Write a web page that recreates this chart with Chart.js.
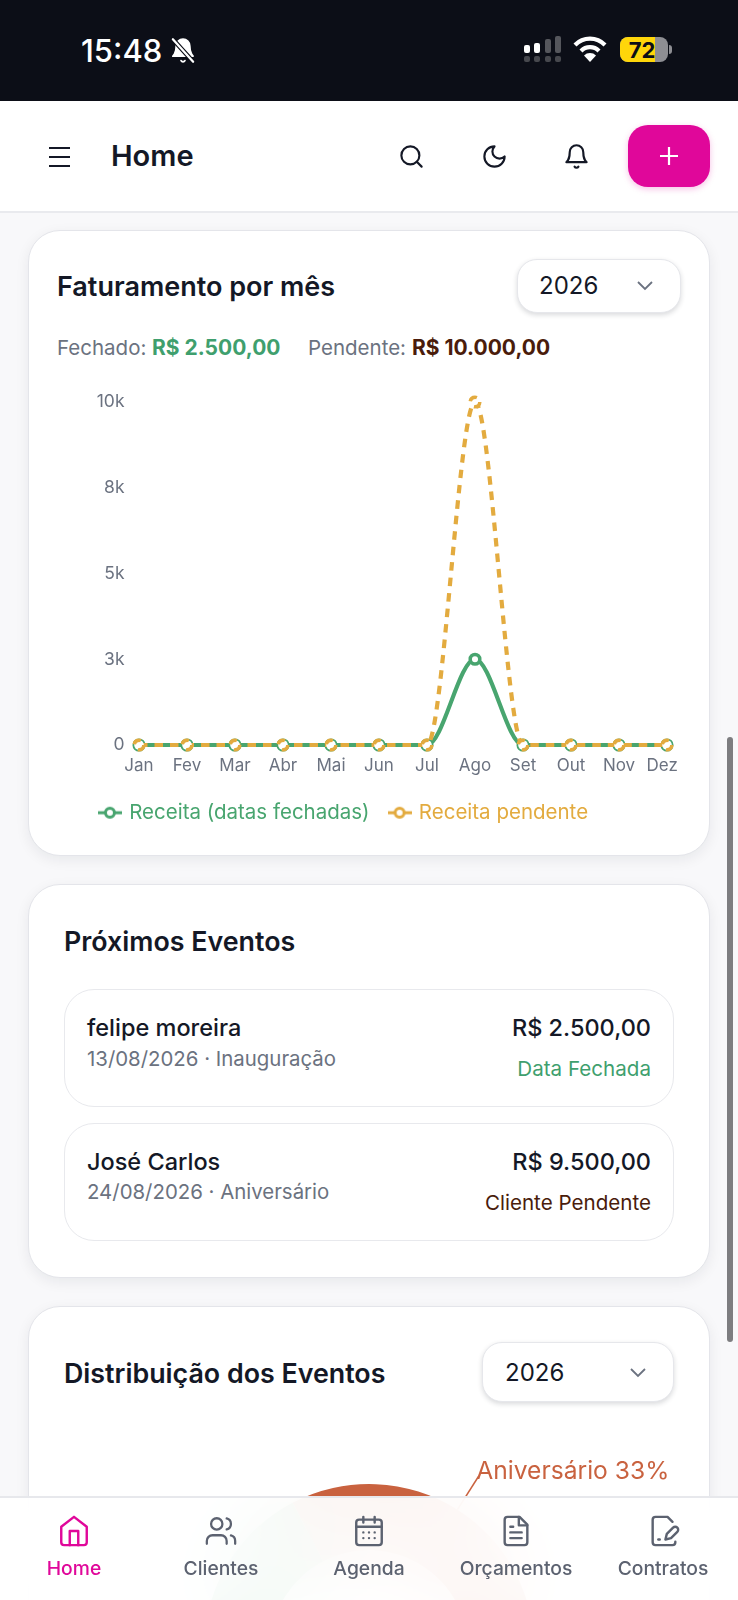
<!DOCTYPE html>
<html lang="pt-BR">
<head>
<meta charset="utf-8">
<title>Home</title>
<script src="https://cdn.jsdelivr.net/npm/chart.js@4"></script>
<style>
  html, body { margin: 0; padding: 0; }
  body { position: relative; width: 738px; height: 1600px; overflow: hidden; background: #f8f8fa; font-family: Inter, sans-serif; color: #141826; }
  .abs { position: absolute; }
  .t { position: absolute; transform: translateY(-50%); white-space: nowrap; line-height: 1.2; }
  .r { transform: translate(-100%, -50%); }
  .c { transform: translate(-50%, -50%); }
  .status { left: 0; top: 0; width: 738px; height: 101px; background: #0c0e17; }
  .header { left: 0; top: 101px; width: 738px; height: 110px; background: #fff; border-bottom: 2px solid #e9eaee; }
  .card { position: absolute; left: 28px; width: 680px; background: #fff; border: 1.5px solid #e4e5ea; border-radius: 32px; box-shadow: 0 4px 14px rgba(20,24,38,.07); }
  .row { position: absolute; left: 64px; width: 608px; height: 116px; background: #fff; border: 1.5px solid #e8e9ed; border-radius: 30px; }
  .select { position: absolute; background: #fff; border: 1.5px solid #e6e7eb; border-radius: 20px; box-shadow: 0 2px 5px rgba(20,24,38,.16); box-sizing: border-box; }
  .title { font-size: 26.8px; font-weight: 600; }
  .nav { left: 0; top: 1496px; width: 738px; height: 104px; background: rgba(255,255,255,.94); backdrop-filter: blur(40px); -webkit-backdrop-filter: blur(40px); border-top: 2px solid #e7e8ec; box-sizing: border-box; }
  .navlabel { font-size: 19.3px; font-weight: 500; color: #5c6270; }
  svg.i { position: absolute; fill: none; stroke-linecap: round; stroke-linejoin: round; }
  .scroll { left: 727px; top: 737px; width: 6px; height: 605px; border-radius: 3px; background: #7d7d80; }
</style>
</head>
<body>

<!-- barra de status -->
<div class="abs status"></div>
<div class="t" style="left:81px;top:51px;font-size:31px;font-weight:500;color:#fff">15:48</div>
<svg class="i" style="left:169px;top:37px" width="28" height="27" viewBox="0 0 24 24" stroke="#fff" stroke-width="1.6">
  <path fill="#fff" d="M6 8a6 6 0 0 1 12 0c0 7 3 9 3 9H3s3-2 3-9"/><path d="M10.3 21a1.94 1.94 0 0 0 3.4 0"/><path stroke="#0c0e17" stroke-width="4" d="M3 2l18 20"/><path stroke-width="2" d="M3 2l18 20"/>
</svg>
<svg class="abs" style="left:520px;top:34px" width="46" height="32" fill="#fff">
  <rect x="4" y="11" width="6" height="8" rx="2"/><rect x="14" y="9" width="6" height="10" rx="2"/>
  <g fill="#55565c"><rect x="25" y="5" width="6" height="14" rx="2"/><rect x="35" y="2" width="6" height="17" rx="2"/></g>
  <g fill="#47484e"><rect x="4" y="22" width="6" height="6" rx="2"/><rect x="14" y="22" width="6" height="6" rx="2"/><rect x="25" y="22" width="6" height="6" rx="2"/><rect x="35" y="22" width="6" height="6" rx="2"/></g>
</svg>
<svg class="abs" style="left:573px;top:35px" width="34" height="28" viewBox="0 0 34 28" fill="none" stroke="#fff" stroke-width="4.2">
  <path d="M2 10a21 21 0 0 1 30 0"/><path d="M8 16a12.5 12.5 0 0 1 18 0"/><path fill="#fff" stroke="none" d="M17 27l-6-6.5a8.500 8.500 0 0 1 12 0z"/>
</svg>
<div class="abs" style="left:620px;top:37px;width:48px;height:25px;border-radius:8px;overflow:hidden;background:#8e8e93"><div style="width:35px;height:25px;background:#ffd60a"></div></div>
<div class="abs" style="left:669px;top:45px;width:3px;height:9px;border-radius:0 3px 3px 0;background:#8e8e93"></div>
<div class="t c" style="left:642px;top:50px;font-size:22px;font-weight:700;color:#0c0e17">72</div>

<!-- cabecalho -->
<div class="abs header"></div>
<svg class="abs" style="left:48px;top:146px" width="23" height="22" stroke="#141826" stroke-width="2.2"><path d="M1 2h21M1 11h21M1 20h21"/></svg>
<div class="t" style="left:111px;top:156px;font-size:29px;font-weight:600">Home</div>
<svg class="i" style="left:398px;top:143px" width="27" height="27" viewBox="0 0 24 24" stroke="#141826" stroke-width="1.9"><circle cx="11" cy="11" r="8"/><path d="m21 21-4.300-4.300"/></svg>
<svg class="i" style="left:481px;top:143px" width="27" height="27" viewBox="0 0 24 24" stroke="#141826" stroke-width="1.9"><path d="M12 3a6 6 0 0 0 9 9 9 9 0 1 1-9-9Z"/></svg>
<svg class="i" style="left:563px;top:143px" width="27" height="27" viewBox="0 0 24 24" stroke="#141826" stroke-width="1.9"><path d="M6 8a6 6 0 0 1 12 0c0 7 3 9 3 9H3s3-2 3-9"/><path d="M10.300 21a1.940 1.940 0 0 0 3.400 0"/></svg>
<div class="abs" style="left:628px;top:125px;width:82px;height:62px;border-radius:20px;background:#e0079a;box-shadow:0 2px 6px rgba(224,7,154,.25)"></div>
<svg class="abs" style="left:659px;top:146px" width="20" height="20" stroke="#fff" stroke-width="2.200"><path d="M10 1v18M1 10h18"/></svg>

<!-- faturamento -->
<div class="card" style="top:230px;height:624px"></div>
<div class="t title" style="left:57px;top:287px;font-size:27px">Faturamento por mês</div>
<div class="select" style="left:517px;top:259px;width:164px;height:54px"></div>
<div class="t" style="left:539px;top:286px;font-size:24px">2026</div>
<svg class="abs" style="left:637px;top:281px" width="16" height="10" fill="none" stroke="#6b7280" stroke-width="1.800"><path d="M1 1l7 7 7-7"/></svg>
<div class="t" style="left:57px;top:348px;font-size:20.5px;color:#6b7280">Fechado:</div>
<div class="t" style="left:152px;top:348px;font-size:21px;font-weight:700;color:#3f9f6e">R$ 2.500,00</div>
<div class="t" style="left:308px;top:348px;font-size:20.5px;color:#6b7280">Pendente:</div>
<div class="t" style="left:412px;top:348px;font-size:21px;font-weight:700;color:#4a1c0b">R$ 10.000,00</div>
<canvas id="lineChart" class="abs" style="left:5px;top:370px" width="675" height="463"></canvas>

<!-- proximos eventos -->
<div class="card" style="top:884px;height:392px"></div>
<div class="t title" style="left:64px;top:941px">Próximos Eventos</div>
<div class="row" style="top:989px"></div>
<div class="t" style="left:87px;top:1028px;font-size:23.5px;font-weight:500">felipe moreira</div>
<div class="t" style="left:87px;top:1059px;font-size:20.4px;color:#6b7280">13/08/2026 · Inauguração</div>
<div class="t r" style="left:651px;top:1028px;font-size:23.5px;font-weight:500">R$ 2.500,00</div>
<div class="t r" style="left:651px;top:1069px;font-size:20.6px;color:#3f9f6e">Data Fechada</div>
<div class="row" style="top:1123px"></div>
<div class="t" style="left:87px;top:1162px;font-size:23.5px;font-weight:500">José Carlos</div>
<div class="t" style="left:87px;top:1192px;font-size:20.4px;color:#6b7280">24/08/2026 · Aniversário</div>
<div class="t r" style="left:651px;top:1162px;font-size:23.5px;font-weight:500">R$ 9.500,00</div>
<div class="t r" style="left:651px;top:1203px;font-size:20.6px;color:#4a1c0b">Cliente Pendente</div>

<!-- distribuicao -->
<div class="card" style="top:1306px;height:500px"></div>
<div class="t title" style="left:64px;top:1373px">Distribuição dos Eventos</div>
<div class="select" style="left:482px;top:1342px;width:192px;height:60px"></div>
<div class="t" style="left:505px;top:1373px;font-size:24px">2026</div>
<svg class="abs" style="left:630px;top:1368px" width="16" height="10" fill="none" stroke="#6b7280" stroke-width="1.800"><path d="M1 1l7 7 7-7"/></svg>
<canvas id="pieChart" class="abs" style="left:29px;top:1440px" width="680" height="418"></canvas>

<div class="abs scroll"></div>

<!-- navegacao inferior -->
<div class="abs nav"></div>
<svg class="i" style="left:57px;top:1514px" width="34" height="34" viewBox="0 0 24 24" stroke="#e0079a" stroke-width="1.700"><path d="m3 9 9-7 9 7v11a2 2 0 0 1-2 2H5a2 2 0 0 1-2-2z"/><path d="M9 22V12h6v10"/></svg>
<svg class="i" style="left:204px;top:1514px" width="34" height="34" viewBox="0 0 24 24" stroke="#5c6270" stroke-width="1.600"><path d="M16 21v-2a4 4 0 0 0-4-4H6a4 4 0 0 0-4 4v2"/><circle cx="9" cy="7" r="4"/><path d="M22 21v-2a4 4 0 0 0-3-3.870"/><path d="M16 3.130a4 4 0 0 1 0 7.750"/></svg>
<svg class="i" style="left:352px;top:1514px" width="34" height="34" viewBox="0 0 24 24" stroke="#5c6270" stroke-width="1.700"><rect x="3" y="4" width="18" height="18" rx="2"/><path d="M16 2v4M8 2v4M3 9h18M8 13h.01M12 13h.01M16 13h.01M8 17h.01M12 17h.01M16 17h.01"/></svg>
<svg class="i" style="left:499px;top:1514px" width="34" height="34" viewBox="0 0 24 24" stroke="#5c6270" stroke-width="1.700"><path d="M14.500 2H6a2 2 0 0 0-2 2v16a2 2 0 0 0 2 2h12a2 2 0 0 0 2-2V7.500L14.500 2z"/><path d="M14 2v6h6M8 13h8M8 17h8M8 9h2"/></svg>
<svg class="i" style="left:647px;top:1514px" width="34" height="34" viewBox="0 0 24 24" stroke="#5c6270" stroke-width="1.700"><path d="M20 19.500v.5a2 2 0 0 1-2 2H6a2 2 0 0 1-2-2V4a2 2 0 0 1 2-2h8.500L18 5.500"/><path d="M8 18h1"/><path d="M18.420 9.610a2.100 2.100 0 1 1 2.970 2.970L16.950 17 13 18l.99-3.950 4.430-4.440Z"/></svg>
<div class="t c navlabel" style="left:74px;top:1569px;color:#e0079a">Home</div>
<div class="t c navlabel" style="left:221px;top:1569px">Clientes</div>
<div class="t c navlabel" style="left:369px;top:1569px">Agenda</div>
<div class="t c navlabel" style="left:516px;top:1569px">Orçamentos</div>
<div class="t c navlabel" style="left:663px;top:1569px">Contratos</div>

<script>
const months = ["Jan", "Fev", "Mar", "Abr", "Mai", "Jun", "Jul", "Ago", "Set", "Out", "Nov", "Dez"];
const receitaFechada = [0, 0, 0, 0, 0, 0, 0, 2500, 0, 0, 0, 0];
const receitaPendente = [0, 0, 0, 0, 0, 0, 0, 10000, 0, 0, 0, 0];
const yTicks = ["0", "3k", "5k", "8k", "10k"];

const pieLabels = ["Aniversário", "Casamento", "Inauguração"];
const pieValues = [33, 33, 33];
const pieColors = ["#c9623f", "#e3ab3f", "#48a56f"];

const GREEN = "#48a56f";
const GOLD = "#e3ab3f";
const DASH = [8.5, 7];

Chart.defaults.font.family = "Inter, sans-serif";

// legend marker: short line with a ring in the middle
function legendMarker(color) {
  const c = document.createElement("canvas");
  c.width = 24;
  c.height = 14;
  const ctx = c.getContext("2d");
  ctx.strokeStyle = color;
  ctx.lineWidth = 3;
  ctx.beginPath();
  ctx.moveTo(0, 7);
  ctx.lineTo(24, 7);
  ctx.stroke();
  ctx.fillStyle = "#fff";
  ctx.beginPath();
  ctx.arc(12, 7, 4.5, 0, Math.PI * 2);
  ctx.fill();
  ctx.stroke();
  return c;
}

// the pending series dashes its dots too, so set the dash before they are drawn
const dashedDots = {
  id: "dashedDots",
  beforeDatasetDraw(chart, args) {
    if (args.index === 1) chart.ctx.setLineDash(DASH);
  },
  afterDatasetDraw(chart) {
    chart.ctx.setLineDash([]);
  }
};

new Chart(document.getElementById("lineChart"), {
  type: "line",
  data: {
    labels: months,
    datasets: [
      {
        label: "Receita (datas fechadas)",
        data: receitaFechada,
        borderColor: GREEN,
        borderWidth: 4.2,
        cubicInterpolationMode: "monotone",
        pointRadius: 4.8,
        pointBorderWidth: 3.5,
        pointBackgroundColor: "#fff",
        pointBorderColor: GREEN,
        clip: false,
        order: 2
      },
      {
        label: "Receita pendente",
        data: receitaPendente,
        borderColor: GOLD,
        borderWidth: 4.2,
        borderDash: DASH,
        cubicInterpolationMode: "monotone",
        pointRadius: 4.8,
        pointBorderWidth: 3.5,
        pointBackgroundColor: "#fff",
        pointBorderColor: GOLD,
        clip: false,
        order: 1
      }
    ]
  },
  options: {
    responsive: false,
    animation: false,
    layout: { padding: { left: 17, right: 13, top: 32, bottom: 0 } },
    plugins: {
      tooltip: { enabled: false },
      legend: {
        position: "bottom",
        labels: {
          usePointStyle: true,
          pointStyleWidth: 18,
          padding: 21,
          font: { size: 20.5 },
          generateLabels(chart) {
            return chart.data.datasets.map((d, i) => ({
              text: d.label,
              fontColor: d.borderColor,
              pointStyle: legendMarker(d.borderColor),
              datasetIndex: i
            }));
          }
        }
      }
    },
    scales: {
      x: {
        grid: { display: false },
        border: { display: false },
        afterFit(scale) {
          scale.paddingLeft = 0;
          scale.paddingRight = 0;
          scale.height = 36.5;
        },
        ticks: {
          color: "#6b7280",
          font: { size: 17 },
          padding: 3,
          maxRotation: 0,
          autoSkip: false,
          // last label sits a little left of its point, as in the app
          callback: (v, i) => (i === months.length - 1 ? months[i] + "  " : months[i])
        }
      },
      y: {
        min: 0,
        max: 10000,
        grid: { display: false },
        border: { display: false },
        afterFit(scale) {
          scale.width = 117;
        },
        ticks: {
          stepSize: 2500,
          color: "#6b7280",
          font: { size: 17.5 },
          padding: 6.5,
          callback: (v) => yTicks[v / 2500]
        }
      }
    }
  },
  plugins: [dashedDots]
});

// outside label with leader line for the first slice
const sliceLabel = {
  id: "sliceLabel",
  afterDatasetsDraw(chart) {
    const arc = chart.getDatasetMeta(0).data[0];
    const mid = (arc.startAngle + arc.endAngle) / 2;
    const x1 = arc.x + Math.cos(mid) * arc.outerRadius;
    const y1 = arc.y + Math.sin(mid) * arc.outerRadius;
    const x2 = arc.x + Math.cos(mid) * (arc.outerRadius + 39);
    const y2 = arc.y + Math.sin(mid) * (arc.outerRadius + 39);
    const ctx = chart.ctx;
    ctx.save();
    ctx.strokeStyle = pieColors[0];
    ctx.lineWidth = 1.5;
    ctx.beginPath();
    ctx.moveTo(x1, y1);
    ctx.lineTo(x2, y2);
    ctx.stroke();
    ctx.fillStyle = pieColors[0];
    ctx.font = "24.6px Inter, sans-serif";
    ctx.textBaseline = "middle";
    ctx.fillText(pieLabels[0] + " " + pieValues[0] + "%", x2 - 2, y2 - 5);
    ctx.restore();
  }
};

new Chart(document.getElementById("pieChart"), {
  type: "doughnut",
  data: {
    labels: pieLabels,
    datasets: [{ data: pieValues, backgroundColor: pieColors, borderWidth: 0, radius: 165 }]
  },
  options: {
    responsive: false,
    animation: false,
    rotation: -27.6,
    cutout: "60%",
    plugins: { legend: { display: false }, tooltip: { enabled: false } }
  },
  plugins: [sliceLabel]
});
</script>
</body>
</html>
